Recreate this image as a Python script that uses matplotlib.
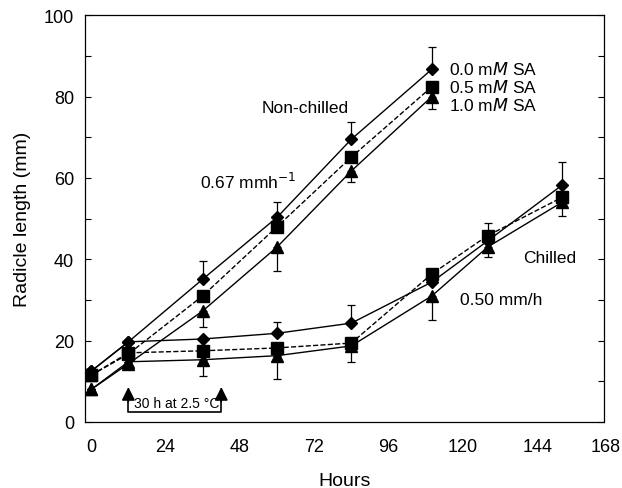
import numpy as np
import matplotlib
matplotlib.use("Agg")
import matplotlib.pyplot as plt
from matplotlib.ticker import MultipleLocator

plt.rcParams['font.family'] = ['Liberation Sans', 'DejaVu Sans']

# hours of measurement
hours_nc = [0, 12, 36, 60, 84, 110]
hours_ch = [0, 12, 36, 60, 84, 110, 128, 152]

# non-chilled radicle length (mm)
nc_00 = [12.5, 19.7, 35.1, 50.3, 69.5, 86.7]
nc_05 = [11.5, 16.7, 31.0, 48.0, 65.1, 82.4]
nc_10 = [8.0, 14.3, 27.3, 43.0, 61.7, 80.0]
nc_00_err = [0, 0, 4.4, 3.7, 4.2, 5.5]
nc_10_err = [0, 0, 4.0, 5.8, 2.7, 3.0]

# chilled radicle length (mm)
ch_00 = [12.5, 19.7, 20.4, 21.8, 24.3, 34.4, 44.5, 58.2]
ch_05 = [11.5, 17.0, 17.5, 18.2, 19.4, 36.4, 45.8, 55.2]
ch_10 = [8.0, 14.8, 15.3, 16.3, 18.7, 31.0, 43.0, 54.0]
ch_00_err = [0, 0, 0, 2.8, 4.4, 0, 4.4, 5.6]
ch_10_err = [0, 0, 4.0, 5.7, 4.0, 6.0, 2.5, 3.3]

xtick_vals = [0, 24, 48, 72, 96, 120, 144, 168]

fig = plt.figure(figsize=(6.22, 4.89), dpi=100)
ax = fig.add_axes([0.1367, 0.135, 0.834, 0.832])

zeros_nc = np.zeros(len(hours_nc))
zeros_ch = np.zeros(len(hours_ch))

err_kw = dict(color='black', ecolor='black', elinewidth=0.9, capsize=3, capthick=0.9, lw=1.0)

# chilled
ax.errorbar(hours_ch, ch_00, yerr=[zeros_ch, ch_00_err], marker='D', ms=6.5, ls='-', **err_kw)
ax.errorbar(hours_ch, ch_05, marker='s', ms=8, ls='--', color='black', lw=1.0)
ax.errorbar(hours_ch, ch_10, yerr=[ch_10_err, zeros_ch], marker='^', ms=8, ls='-', **err_kw)

# non-chilled
ax.errorbar(hours_nc, nc_00, yerr=[zeros_nc, nc_00_err], marker='D', ms=6.5, ls='-', **err_kw)
ax.errorbar(hours_nc, nc_05, marker='s', ms=8, ls='--', color='black', lw=1.0)
ax.errorbar(hours_nc, nc_10, yerr=[nc_10_err, zeros_nc], marker='^', ms=8, ls='-', **err_kw)

ax.set_xlim(-2, 165.5)
ax.set_ylim(0, 100)
ax.set_xticks([])
for v in xtick_vals:
    xoff = -4 if v == 168 else 0
    ax.annotate(str(v), xy=(v, 0), xycoords=('data', 'axes fraction'),
                xytext=(xoff, -18), textcoords='offset points',
                ha='center', va='center', fontsize=13, annotation_clip=False)

ax.yaxis.set_major_locator(MultipleLocator(20))
ax.yaxis.set_minor_locator(MultipleLocator(10))
ax.tick_params(axis='y', which='both', direction='in', length=4, width=0.8,
               left=True, right=True, labelsize=13, pad=8)
ax.spines['bottom'].set_linestyle((0, (1, 1)))
for s in ax.spines.values():
    s.set_linewidth(0.9)

ax.set_xlabel('Hours', fontsize=14, labelpad=36)
ax.set_ylabel('Radicle length (mm)', fontsize=14, labelpad=9)

# annotations
ax.text(69, 77.4, 'Non-chilled', fontsize=12.5, ha='center', va='center')
ax.text(35, 59.2, '0.67 mmh$^{-1}$', fontsize=12.5, ha='left', va='center')
ax.text(115.5, 87.0, '0.0 m$\\it{M}$ SA', fontsize=12.5, ha='left', va='center')
ax.text(115.5, 82.5, '0.5 m$\\it{M}$ SA', fontsize=12.5, ha='left', va='center')
ax.text(115.5, 78.0, '1.0 m$\\it{M}$ SA', fontsize=12.5, ha='left', va='center')
ax.text(139.5, 40.5, 'Chilled', fontsize=12.5, ha='left', va='center')
ax.text(119, 30.2, '0.50 mm/h', fontsize=12.5, ha='left', va='center')

# chilling period bracket
ax.plot([12, 12, 42, 42], [6.0, 2.5, 2.5, 6.0], color='black', lw=1.2)
for xa in [12, 42]:
    ax.annotate('', xy=(xa, 8.6), xytext=(xa, 5.0),
                arrowprops=dict(arrowstyle='-|>', color='black', lw=1.2,
                                mutation_scale=20, shrinkA=0, shrinkB=0))
ax.text(27.5, 4.6, '30 h at 2.5 °C', fontsize=10, ha='center', va='center')

fig.savefig('out.png', dpi=100)
